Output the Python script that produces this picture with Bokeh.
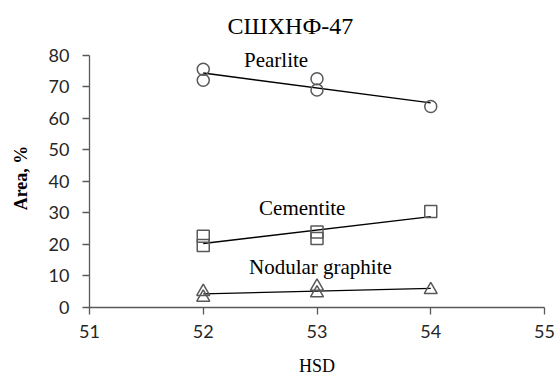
import numpy as np
from bokeh.plotting import figure
from bokeh.models import Range1d, FixedTicker
from bokeh.core.properties import value
from bokeh.embed import file_html
from bokeh.resources import INLINE

# ---- data ----
title_text = "СШХНФ-47"
x_label = "HSD"
y_label = "Area, %"
x_ticks = [51, 52, 53, 54, 55]
y_ticks = [0, 10, 20, 30, 40, 50, 60, 70, 80]

hsd = [52, 52, 53, 53, 54]
pearlite = [75.6, 72.1, 72.6, 69.0, 63.8]
cementite = [22.6, 19.7, 24.0, 21.9, 30.5]
nodular = [5.0, 3.2, 6.7, 4.6, 5.6]

series_names = ["Pearlite", "Cementite", "Nodular graphite"]

# ---- annotation placement (data coords) ----
label_x = [52.64, 52.87, 53.03]
label_y = [78.4, 31.7, 13.0]

SERIF = "Liberation Serif"
SANS = "Lato"
AXIS_COLOR = "#595959"
MARKER_COLOR = "#595959"

p = figure(width=559, height=378, output_backend="svg", toolbar_location=None,
           x_range=Range1d(51, 55), y_range=Range1d(0, 82.2),
           min_border_left=89, min_border_right=15, min_border_top=47,
           min_border_bottom=70)
p.outline_line_color = None
p.xgrid.visible = False
p.ygrid.visible = False

p.title.text = title_text
p.title.align = "left"
p.title.offset = 138
p.title.standoff = 20
p.title.text_font = SERIF
p.title.text_font_size = "24px"
p.title.text_font_style = "normal"
p.title.text_color = "black"

for ax in (p.xaxis[0], p.yaxis[0]):
    ax.axis_line_color = AXIS_COLOR
    ax.axis_line_width = 1.3
    ax.major_tick_line_color = AXIS_COLOR
    ax.major_tick_line_width = 1.3
    ax.major_tick_in = 0
    ax.major_tick_out = 7
    ax.minor_tick_line_color = None
    ax.major_label_text_font = SANS
    ax.major_label_text_font_size = "18px"
    ax.major_label_text_color = "#262626"
    ax.axis_label_text_font = SERIF
    ax.axis_label_text_font_size = "18px"
    ax.axis_label_text_color = "black"

p.xaxis.ticker = FixedTicker(ticks=x_ticks)
p.yaxis.ticker = FixedTicker(ticks=y_ticks)
p.yaxis.bounds = (y_ticks[0], y_ticks[-1])
p.xaxis.axis_label = x_label
p.yaxis.axis_label = y_label
p.xaxis.axis_label_text_font_style = "normal"
p.yaxis.axis_label_text_font_style = "bold"
p.xaxis.major_label_standoff = 10
p.yaxis.major_label_standoff = 13
p.xaxis.axis_label_standoff = 15
p.yaxis.axis_label_standoff = 15

# trend lines (least-squares, from the data)
for ys in (pearlite, cementite, nodular):
    k, b = np.polyfit(hsd, ys, 1)
    xs = [min(hsd), max(hsd)]
    p.line(xs, [k * x + b for x in xs], line_color="black", line_width=1.4)

p.scatter(hsd, pearlite, marker="circle", size=12, fill_color=None,
          line_color=MARKER_COLOR, line_width=1.5)
p.scatter(hsd, cementite, marker="square", size=12, fill_color=None,
          line_color=MARKER_COLOR, line_width=1.5)
p.scatter(hsd, nodular, marker="triangle", size=13, fill_color=None,
          line_color=MARKER_COLOR, line_width=1.5)

p.text(x=label_x, y=label_y, text=series_names, text_font=value(SERIF),
       text_font_size="21px", text_align="center", text_baseline="middle",
       text_color="black")

open("out.html", "w").write(file_html(p, INLINE))
